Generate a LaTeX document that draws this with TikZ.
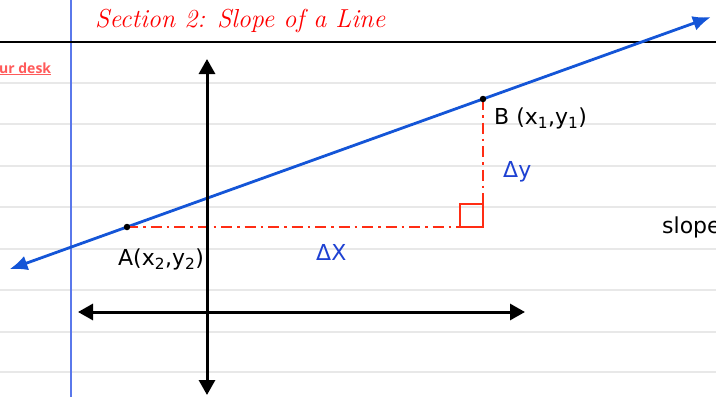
\documentclass[tikz,border=0pt]{standalone}
\usepackage{fontspec}
\newfontfamily\lblfont{DejaVu Sans}
\newfontfamily\notefont{Open Sans}
\usetikzlibrary{arrows.meta, positioning, calc, backgrounds}

\definecolor{lineblue}{RGB}{20,85,215}
\definecolor{textblue}{RGB}{30,65,210}
\definecolor{marginblue}{RGB}{90,120,235}
\definecolor{guidered}{RGB}{255,45,20}
\definecolor{rulegray}{RGB}{232,232,232}
\definecolor{notered}{RGB}{255,90,90}

\begin{document}
\begin{tikzpicture}[
    x=1pt, y=-1pt,
    ruled/.style = {draw=rulegray, line width=1.2pt},
    axis/.style = {draw, line width=3pt, {Triangle[length=15pt, width=16pt]}-{Triangle[length=15pt, width=16pt]}},
    slopeline/.style = {draw=lineblue, line width=2.8pt, {Latex[length=18pt, width=15pt]}-{Latex[length=18pt, width=15pt]}},
    guide/.style = {draw=guidered, line width=2.2pt, dash pattern=on 11pt off 5pt on 2.5pt off 5pt},
    rightangle/.style = {draw=guidered, line width=2.4pt},
    pt/.style = {circle, fill=black, inner sep=0pt, minimum size=6.5pt},
    lbl/.style = {font=\lblfont\fontsize{22}{26}\selectfont, inner sep=0pt},
    delta/.style = {lbl, text=textblue}
]
    \useasboundingbox (0,0) rectangle (716,397);
    \clip (0,0) rectangle (716,397);

    % Points
    \node (A) [pt] at (127,227) {};
    \node (B) [pt] at (483,99) {};
    \coordinate (lineL) at ($(A.center)!-0.33!(B.center)$);
    \coordinate (lineR) at ($(B.center)!-0.64!(A.center)$);
    \coordinate (C) at (A.center -| B.center);

    \begin{scope}[on background layer]
        % Paper
        \foreach \yy in {83,124,166,207,249,290,332,372}
            \path [ruled] (0,\yy) -- (716,\yy);
        \draw [marginblue, line width=1.6pt] (71,0) -- (71,397);
        \draw [line width=2pt] (0,42) -- (716,42);
        % Line, rise and run
        \path [slopeline] (lineL) -- (lineR);
        \path [guide] (A.center) -- ($(C)+(-23,0)$);
        \path [guide] (B.center) -- ($(C)+(0,-23)$);
        \path [rightangle] (C) rectangle ++(-23,-23);
    \end{scope}

    \node (title) [anchor=base west, text=red, inner sep=0pt, font=\itshape\fontsize{26}{30}\selectfont] at (95,27) {Section 2: Slope of a Line};
    \node (note) [anchor=base west, text=notered, inner sep=0pt, font=\notefont\bfseries\fontsize{14}{16}\selectfont] at (-1,73) {\underline{ur desk}};

    % Axes
    \coordinate (yTop) at (207,59);
    \coordinate (yBot) at (207,395);
    \coordinate (xLeft) at (78,312);
    \coordinate (xRight) at (525,312);
    \path [axis] (yTop) -- (yBot);
    \path [axis] (xLeft) -- (xRight);

    % Labels
    \node (Alabel) [lbl, anchor=west] at (118,259) {A(x\textsubscript{2},y\textsubscript{2})};
    \node (Blabel) [lbl, anchor=west] at (494,118) {B (x\textsubscript{1},y\textsubscript{1})};
    \node (dy) [delta, anchor=west] at (503,172) {Δy};
    \node (dx) [delta, anchor=west] at (316,252) {ΔX};
    \node (slope) [lbl, anchor=base west] at (662,233) {slope};
\end{tikzpicture}
\end{document}
